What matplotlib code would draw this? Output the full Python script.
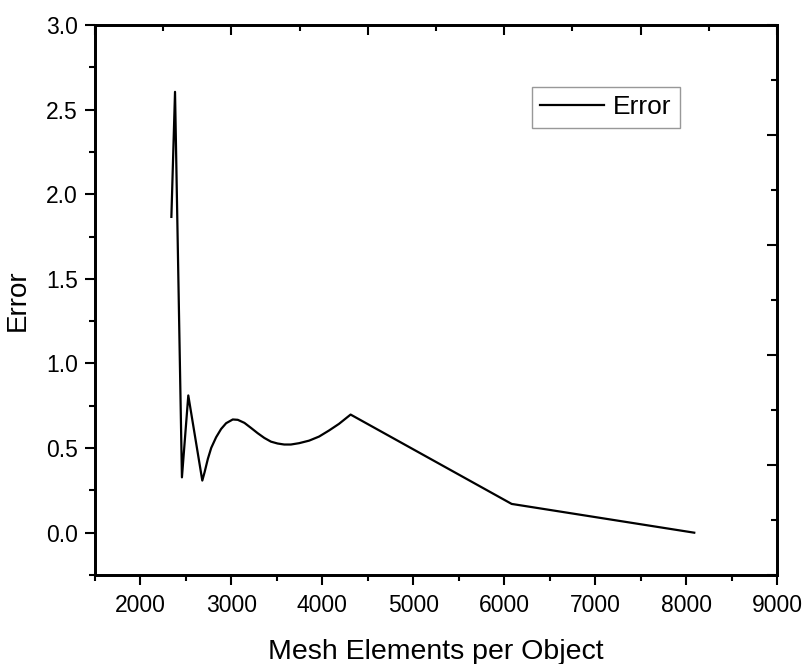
import numpy as np
import matplotlib.pyplot as plt
from matplotlib.ticker import MultipleLocator

# Datos
mesh = [2340, 2380, 2456, 2526, 2680, 2705, 2741, 2778, 2832, 2887, 2942, 3015,
        3070, 3143, 3216, 3289, 3362, 3435, 3508, 3581, 3654, 3745, 3855, 3964,
        4074, 4183, 4311, 6082, 8090]
error = [1.866, 2.605, 0.327, 0.811, 0.308, 0.357, 0.436, 0.501, 0.564, 0.613, 0.647, 0.669,
         0.667, 0.649, 0.619, 0.588, 0.560, 0.538, 0.527, 0.521, 0.521, 0.529, 0.544, 0.568,
         0.604, 0.643, 0.698, 0.170, 0.0]

plt.rcParams['font.family'] = ['Liberation Sans', 'DejaVu Sans']

fig = plt.figure(figsize=(8.07, 6.64), dpi=100)
ax = fig.add_axes([95 / 807, 1 - 575 / 664, 682 / 807, 550 / 664])

ax.plot(mesh, error, color='black', lw=1.6, label='Error')

ax.set_xlim(1500, 9000)
ax.set_ylim(-0.25, 3.0)
ax.set_xticks([2000, 3000, 4000, 5000, 6000, 7000, 8000, 9000])
ax.set_yticks([0.0, 0.5, 1.0, 1.5, 2.0, 2.5, 3.0])
ax.xaxis.set_minor_locator(MultipleLocator(500))
ax.yaxis.set_minor_locator(MultipleLocator(0.25))
ax.tick_params(which='major', direction='out', length=7.5, width=1.5, labelsize=16.5)
ax.tick_params(axis='y', which='major', pad=5)
ax.tick_params(axis='x', which='major', pad=6)
ax.tick_params(which='minor', direction='out', length=4.5, width=1.5)

for s in ax.spines.values():
    s.set_linewidth(1.8)

# ejes de arriba y derecha (ticks hacia dentro, sin etiquetas)
ax_r = ax.twinx()
ax_r.set_ylim(0, 1)
ax_r.set_yticks(np.linspace(0, 1, 6))
ax_r.set_yticks(np.linspace(0, 1, 11), minor=True)
ax_r.tick_params(which='major', direction='in', length=7, width=1.5, labelright=False)
ax_r.tick_params(which='minor', direction='in', length=4, width=1.5)

ax_t = ax.twiny()
ax_t.set_xlim(0, 1)
ax_t.set_xticks(np.linspace(0, 1, 6))
ax_t.set_xticks(np.linspace(0, 1, 11), minor=True)
ax_t.tick_params(which='major', direction='in', length=7, width=1.5, labeltop=False)
ax_t.tick_params(which='minor', direction='in', length=4, width=1.5)
for a in (ax_r, ax_t):
    for s in a.spines.values():
        s.set_linewidth(1.8)

ax.set_xlabel('Mesh Elements per Object', fontsize=20.5, labelpad=16)
ax.set_ylabel('Error', fontsize=20, labelpad=11)

leg = ax.legend(loc='upper right', bbox_to_anchor=((680 - 95) / 682, (575 - 87) / 550),
                bbox_transform=ax.transAxes, fontsize=19, frameon=True, fancybox=False,
                handlelength=2.4, handletextpad=0.35, borderpad=0.32, borderaxespad=0)
leg.get_frame().set_edgecolor('#7f7f7f')
leg.get_frame().set_linewidth(1.0)
leg.set_zorder(5)

fig.savefig('out.png', dpi=100)
